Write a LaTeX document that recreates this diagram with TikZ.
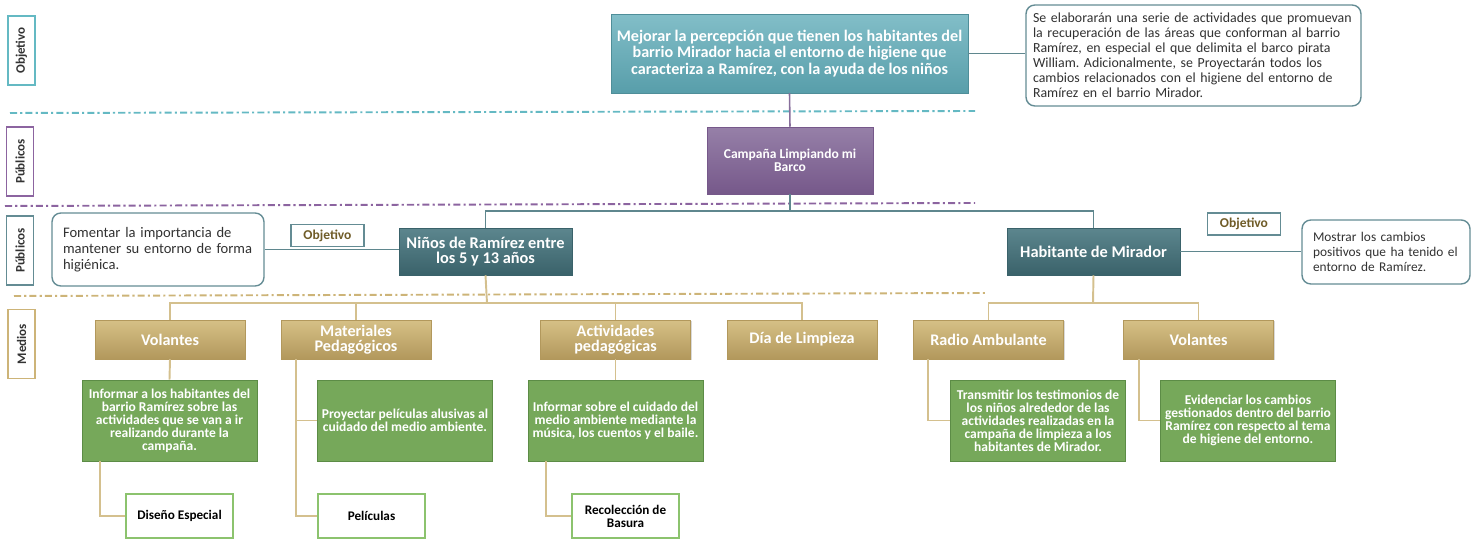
\documentclass[tikz,border=0pt]{standalone}
\usepackage{fontspec}
\setmainfont{Carlito}
\usetikzlibrary{shadows,calc}
\frenchspacing
\definecolor{tealA}{RGB}{130,190,200}
\definecolor{tealB}{RGB}{88,158,170}
\definecolor{purA}{RGB}{150,128,168}
\definecolor{purB}{RGB}{118,88,138}
\definecolor{dtA}{RGB}{92,134,142}
\definecolor{dtB}{RGB}{58,98,106}
\definecolor{tanA}{RGB}{214,192,134}
\definecolor{tanB}{RGB}{178,152,92}
\definecolor{grn}{RGB}{118,168,90}
\definecolor{grnD}{RGB}{92,140,70}
\definecolor{grnL}{RGB}{140,195,110}
\definecolor{edge}{RGB}{100,140,148}
\definecolor{conT}{RGB}{95,135,142}
\definecolor{conP}{RGB}{135,110,155}
\definecolor{conN}{RGB}{212,192,142}
\definecolor{olive}{RGB}{112,92,40}
\definecolor{txt}{RGB}{50,50,50}
\definecolor{dlT}{RGB}{100,185,195}
\definecolor{dlP}{RGB}{140,100,160}
\definecolor{dlN}{RGB}{205,180,120}
\begin{document}
\frenchspacing
\begin{tikzpicture}[x=0.02cm,y=-0.02cm,
  sz/.style 2 args={minimum width=#1*0.2mm, minimum height=#2*0.2mm, inner sep=1pt},
  shd/.style={drop shadow={opacity=0.3, shadow xshift=0.6pt, shadow yshift=-0.8pt}},
  topbox/.style={shd, top color=tealA, bottom color=tealB, draw=tealB!90!black, line width=0.3pt, text=white, align=center, font=\fontsize{9.2}{9.2}\selectfont\bfseries},
  campbox/.style={shd, top color=purA, bottom color=purB, draw=purB, line width=0.3pt, text=white, align=center, font=\fontsize{7.7}{7.2}\selectfont\bfseries},
  pubbox/.style={shd, top color=dtA, bottom color=dtB, draw=dtB, line width=0.3pt, text=white, align=center, font=\fontsize{9.3}{8.6}\selectfont\bfseries},
  medbox/.style={shd, sz={150}{39}, top color=tanA, bottom color=tanB, draw=tanB, line width=0.3pt, text=white, align=center, font=\fontsize{9.2}{8.6}\selectfont\bfseries},
  grnbox/.style={sz={175}{81}, fill=grn, draw=grnD, line width=0.5pt, text=white, align=center, font=\fontsize{7.7}{7.4}\selectfont\bfseries},
  whtbox/.style={sz={107}{44}, fill=white, draw=grnL, line width=0.8pt, text=black, align=center, font=\fontsize{7.5}{7.4}\selectfont\bfseries},
  notebox/.style n args={3}{rounded corners=5pt, draw=edge, line width=0.8pt, fill=white, text=txt, align=left,
     inner xsep=#3*0.2mm, inner ysep=1pt, text width=(#1-2*#3)*0.2mm, minimum height=#2*0.2mm},
  objlab/.style={sz={73}{22}, draw=edge, line width=0.8pt, fill=white, text=olive, font=\fontsize{7.7}{7}\selectfont\bfseries},
  sidelab/.style={rotate=90, sz={69}{27}, fill=white, line width=0.9pt, text=black!80, font=\fontsize{7.4}{7}\selectfont\bfseries},
  dl/.style={line width=1.1pt, dash pattern=on 4pt off 1.8pt on 1.2pt off 1.8pt},
  cT/.style={draw=conT, line width=0.9pt},
  cP/.style={draw=conP, line width=0.9pt},
  cN/.style={draw=conN, line width=1.1pt}]
\useasboundingbox (0,0) rectangle (1475,540);

% separator lines
\coordinate (s1a) at (10,113); \coordinate (s1b) at (975,111);
\coordinate (s2a) at (5,206); \coordinate (s2b) at (975,203);
\coordinate (s3a) at (14,296); \coordinate (s3b) at (985,293);
\draw[dl, dlT] (s1a) -- (s1b);
\draw[dl, dlP] (s2a) -- (s2b);
\draw[dl, dlN] (s3a) -- (s3b);

% side labels
\node[sidelab, draw=dlT] (lab1) at (21.5,50.5) {Objetivo};
\node[sidelab, draw=dlP] (lab2) at (20,161.5) {Públicos};
\node[sidelab, draw=edge] (lab3) at (20,250.5) {Públicos};
\node[sidelab, draw=dlN] (lab4) at (21.5,344) {Medios};

% top level
\node[topbox, sz={357}{79}] (top) at (789.5,53.5) {Mejorar la percepción que tienen los habitantes del\\ barrio Mirador hacia el entorno de higiene que\\ caracteriza a Ramírez, con la ayuda de los niños};
\node[notebox={335}{101}{7}, font=\fontsize{7.9}{8.5}\selectfont] (rtext) at (1193.5,55.5) {Se elaborarán una serie de actividades que promuevan\\ la recuperación de las áreas que conforman al barrio\\ Ramírez, en especial el que delimita el barco pirata\\ William. Adicionalmente, se Proyectarán todos los\\ cambios relacionados con el higiene del entorno de\\ Ramírez en el barrio Mirador.};
\draw[cT] (top.east) -- (top.east -| rtext.west);

\node[campbox, sz={166}{67}] (camp) at (790,160.5) {Campaña Limpiando mi\\ Barco};
\draw[cP] (top.south) -- (camp.north);

% publics
\node[pubbox, sz={173}{47}] (ninos) at (485.5,251.5) {Niños de Ramírez entre\\ los 5 y 13 años};
\node[pubbox, sz={173}{47}] (hab) at (1093.5,251.5) {Habitante de Mirador};
\coordinate (j1) at (790,211);
\draw[cT] (camp.south) -- (j1);
\draw[cT] (ninos.north) |- (j1) -| (hab.north);

\node[notebox={212}{73}{11}, font=\fontsize{8.3}{9}\selectfont] (fom) at (158,249.5) {Fomentar la importancia de\\ mantener su entorno de forma\\ higiénica.};
\node[objlab] (obj1) at (327.5,235.5) {Objetivo};
\draw[cT] (fom.east) -- (fom.east -| ninos.west);

\node[notebox={168}{64}{11}, font=\fontsize{7.6}{8.5}\selectfont] (most) at (1386,252) {Mostrar los cambios\\ positivos que ha tenido el\\ entorno de Ramírez.};
\node[objlab] (obj2) at (1244,224) {Objetivo};
\draw[cT] (hab.east) -- (hab.east -| most.west);

% medios
\node[medbox] (vol1) at (170,339.5) {Volantes};
\node[medbox] (mat) at (356,339.5) {Materiales\\ Pedagógicos};
\node[medbox] (act) at (615.5,339.5) {Actividades\\ pedagógicas};
\node[medbox] (dia) at (802,339.5) {Día de Limpieza};
\node[medbox] (rad) at (988.5,339.5) {Radio Ambulante};
\node[medbox] (vol2) at (1198.5,339.5) {Volantes};

\coordinate (j2) at (487,303);
\coordinate (j3) at (1093,303);
\draw[cN] (ninos.south) -- (j2);
\draw[cN] (vol1.north) |- (j2) -| (dia.north);
\draw[cN] (mat.north) -- (mat.north |- j2);
\draw[cN] (act.north) -- (act.north |- j2);
\draw[cN] (hab.south) -- (j3);
\draw[cN] (rad.north) |- (j3) -| (vol2.north);

% green boxes
\node[grnbox] (g1) at (169.5,420.5) {Informar a los habitantes del\\ barrio Ramírez sobre las\\ actividades que se van a ir\\ realizando durante la\\ campaña.};
\node[grnbox] (g2) at (405,420.5) {Proyectar películas alusivas al\\ cuidado del medio ambiente.};
\node[grnbox] (g3) at (615.5,420.5) {Informar sobre el cuidado del\\ medio ambiente mediante la\\ música, los cuentos y el baile.};
\node[grnbox] (g4) at (1038,420.5) {Transmitir los testimonios de\\ los niños alrededor de las\\ actividades realizadas en la\\ campaña de limpieza a los\\ habitantes de Mirador.};
\node[grnbox] (g5) at (1248,420.5) {Evidenciar los cambios\\ gestionados dentro del barrio\\ Ramírez con respecto al tema\\ de higiene del entorno.};

% white boxes
\node[whtbox] (dis) at (179.5,516) {Diseño Especial};
\node[whtbox] (peli) at (371.5,516) {Películas};
\node[whtbox] (rec) at (625.5,516) {Recolección de\\ Basura};

% medios connectors
\draw[cN] (vol1.south) -- (g1.north);
\draw[cN] (act.south) -- (g3.north);
\draw[cN] ($(mat.south west)+(15,0)$) |- (g2.west);
\draw[cN] ($(mat.south west)+(15,0)$) |- (peli.west);
\draw[cN] ($(g1.south west)+(18,0)$) |- (dis.west);
\draw[cN] ($(g3.south west)+(18,0)$) |- (rec.west);
\draw[cN] ($(rad.south west)+(15,0)$) |- (g4.west);
\draw[cN] ($(vol2.south west)+(16,0)$) |- (g5.west);
\end{tikzpicture}
\end{document}
